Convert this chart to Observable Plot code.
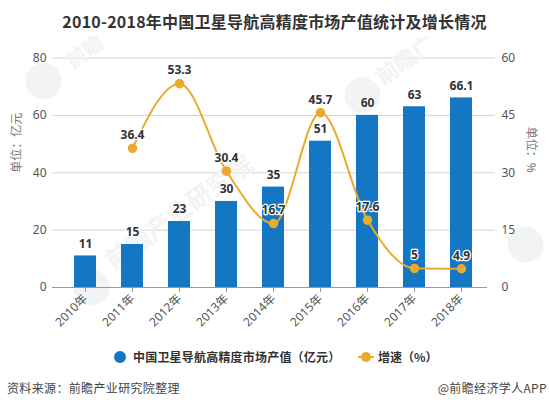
<!DOCTYPE html>
<html><head><meta charset="utf-8">
<script src="https://cdn.jsdelivr.net/npm/d3@7"></script>
<script src="https://cdn.jsdelivr.net/npm/@observablehq/plot@0.6"></script>
<style>
html,body{margin:0;padding:0;background:#fff;width:549px;height:410px;overflow:hidden;font-family:"Noto Sans CJK SC","Noto Sans",sans-serif;}
#title{height:36px;line-height:43px;text-align:center;font-size:16px;font-weight:700;color:#333;white-space:nowrap;letter-spacing:.23px}
#legend{position:absolute;top:346px;left:0;width:549px;height:22px;font-size:12px;color:#333;font-weight:700}
#legend span{position:absolute;top:2px;white-space:nowrap;line-height:18px}
#legend i{position:absolute;display:block}
#foot{position:absolute;top:378px;left:7px;right:2px;display:flex;justify-content:space-between;font-size:12px;color:#444;line-height:20px;letter-spacing:.35px}
svg{display:block}
</style></head><body>
<div id="title"></div><div id="chart"></div>
<div id="legend">
<i style="left:114px;top:5px;width:12px;height:12px;border-radius:50%;background:#1477c4"></i>
<span id="l1" style="left:133px;letter-spacing:.2px"></span>
<i style="left:358px;top:10px;width:16px;height:2px;background:#e8ab2e"></i>
<i style="left:361px;top:6px;width:10px;height:10px;border-radius:50%;background:#e8ab2e"></i>
<span id="l2" style="left:378px"></span>
</div>
<div id="foot"><span id="src"></span><span id="brand"></span></div>
<script>
const titleText = "2010-2018年中国卫星导航高精度市场产值统计及增长情况";
const seriesBar = "中国卫星导航高精度市场产值（亿元）";
const seriesLine = "增速（%）";
const sourceText = "资料来源：前瞻产业研究院整理";
const brandText = "@前瞻经济学人APP";
const years = ["2010年","2011年","2012年","2013年","2014年","2015年","2016年","2017年","2018年"];
const values = [11,15,23,30,35,51,60,63,66.1];
const growthYears = years.slice(1);
const growth = [36.4,53.3,30.4,16.7,45.7,17.6,5,4.9];
const leftTicks = [0,20,40,60,80];
const ratio = 80/60; // right axis 0-60 shares the 0-80 frame

const bars = years.map((year,i)=>({year,value:values[i]}));
const line = growthYears.map((year,i)=>({year,rate:growth[i],y:growth[i]*ratio}));
const wmText = [
  {year:"2010年",v:82,t:"前瞻",s:20},
  {year:"2017年",v:79,t:"前瞻广",s:22},
  {year:"2012年",v:26,t:"前瞻产业研究院",s:25}
];
const wmLogo = [
  {year:"2010年",v:72,dx:-42},
  {year:"2016年",v:67,dx:-5},
  {year:"2018年",v:15,dx:64},
  {year:"2010年",v:0,dx:6}
];

document.getElementById("title").textContent = titleText;
document.getElementById("l1").textContent = seriesBar;
document.getElementById("l2").textContent = seriesLine;
document.getElementById("src").textContent = sourceText;
document.getElementById("brand").textContent = brandText;

const blue="#1477c4", gold="#e8ab2e", dark="#333", axisC="#555", wm="#f1f3f5";
const chart = Plot.plot({
  width:549, height:310,
  marginTop:21.5, marginBottom:59, marginLeft:61, marginRight:64,
  style:{fontFamily:'"Noto Sans","Noto Sans CJK SC",sans-serif',background:"transparent",overflow:"visible"},
  x:{domain:years,paddingInner:0.53,paddingOuter:0.265,label:null},
  y:{domain:[0,80],label:null},
  marks:[
    wmLogo.map(d=>Plot.dot([d],{x:"year",y:"v",r:18,fill:wm,dx:d.dx})),
    Plot.ruleY(leftTicks.slice(1),{stroke:"#d4d4d4",strokeWidth:1,strokeOpacity:1,insetLeft:-9,insetRight:-10}),
    wmText.map(d=>Plot.text([d],{x:"year",y:"v",text:"t",rotate:-36,fill:wm,fontSize:d.s,fontWeight:700,dx:d.year==="2017年"?-9:0})),
    Plot.barY(bars,{x:"year",y:"value",fill:blue}),
    Plot.ruleY([0],{stroke:"#999",strokeWidth:1,insetLeft:-9,insetRight:-2}),
    Plot.axisX({anchor:"bottom",tickRotate:-45,tickSize:5,tickPadding:4,stroke:"#999",color:axisC,fontSize:12,label:null}),
    Plot.axisY({anchor:"left",ticks:leftTicks,tickSize:0,tickPadding:15,color:axisC,fontSize:12,label:null}),
    Plot.axisY({anchor:"right",ticks:leftTicks,tickSize:0,tickPadding:16,color:axisC,fontSize:12,label:null,tickFormat:d=>String(d/ratio)}),
    Plot.text(["单位：亿元"],{frameAnchor:"left",rotate:-90,dx:-44,fill:"#777",fontSize:12}),
    Plot.text(["单位：%"],{frameAnchor:"right",rotate:90,dx:45,fill:"#777",fontSize:12}),
    Plot.text(bars,{x:"year",y:"value",text:d=>String(d.value),dy:-12,fill:dark,fontSize:12,fontWeight:700,stroke:"#fff",strokeWidth:2,paintOrder:"stroke"}),
    Plot.line(line,{x:"year",y:"y",stroke:gold,strokeWidth:2,curve:"monotone-x"}),
    Plot.dot(line,{x:"year",y:"y",r:4,fill:gold,stroke:gold}),
    Plot.text(line,{x:"year",y:"y",text:d=>String(d.rate),dy:-13,fill:dark,fontSize:12,fontWeight:700,stroke:"#fff",strokeWidth:2.5,paintOrder:"stroke"})
  ]
});
document.getElementById("chart").append(chart);
</script></body></html>
